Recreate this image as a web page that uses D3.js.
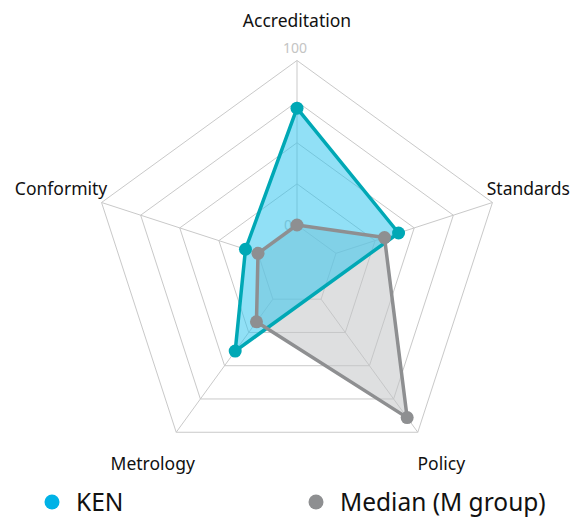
<!DOCTYPE html>
<html lang="en">
<head>
<meta charset="utf-8">
<script src="https://d3js.org/d3.v7.min.js"></script>
<style>
  body { margin: 0; background: #ffffff; }
  svg { display: block; font-family: "Noto Sans", sans-serif; }
</style>
</head>
<body>
<div id="chart"></div>
<script>

// data
var axes = ["Accreditation", "Standards", "Policy", "Metrology", "Conformity"];
var kenValues = [71, 40, null, 39, 8];
var medianValues = [0, 31, 89, 17, 0];
var ringTicks = [0, 25, 50, 75, 100];
var seriesNames = ["KEN", "Median (M group)"];

var w = 582, h = 517;
var cx = 297, cy = 266;

var svg = d3.select("#chart").append("svg")
  .attr("width", w)
  .attr("height", h);

var r = d3.scaleLinear().domain([0, 100]).range([41, 205.5]);

var angle = d3.scalePoint()
  .domain(axes)
  .range([0, 2 * Math.PI * (axes.length - 1) / axes.length]);

function pt(axis, v) {
  var a = angle(axis);
  return [cx + Math.sin(a) * r(v), cy - Math.cos(a) * r(v)];
}

// grid rings
var grid = svg.append("g");
ringTicks.forEach(function(t) {
  grid.append("polygon")
    .attr("points", axes.map(function(ax) { return pt(ax, t).join(","); }).join(" "))
    .attr("fill", "none")
    .attr("stroke", "#c9c9c9")
    .attr("stroke-width", 1);
});
// spokes
axes.forEach(function(ax) {
  var p0 = pt(ax, 0), p1 = pt(ax, 100);
  grid.append("line")
    .attr("x1", p0[0]).attr("y1", p0[1])
    .attr("x2", p1[0]).attr("y2", p1[1])
    .attr("stroke", "#c9c9c9")
    .attr("stroke-width", 1);
});

// value labels on top axis
grid.append("text")
  .attr("x", cx - 2)
  .attr("y", cy - r(100) - 8)
  .attr("text-anchor", "middle")
  .attr("font-size", 14)
  .attr("fill", "#c4c4c4")
  .text("100");
grid.append("text")
  .attr("x", cx - 9)
  .attr("y", cy - r(0) + 5)
  .attr("text-anchor", "middle")
  .attr("font-size", 14)
  .attr("fill", "#c4c4c4")
  .text("0");

// axis labels
axes.forEach(function(ax) {
  var a = angle(ax);
  var p = pt(ax, 100);
  var s = Math.sin(a), c = Math.cos(a);
  var x = p[0], y = p[1], anchor = "middle";
  if (c > 0.9) { y = p[1] - 34; }
  else if (c > 0) { anchor = s > 0 ? "start" : "end"; x = p[0] - s * 6; y = p[1] - 7; }
  else { x = p[0] + s * 40; y = p[1] + 38; }
  svg.append("text")
    .attr("x", x).attr("y", y)
    .attr("text-anchor", anchor)
    .attr("font-size", 17.5)
    .attr("fill", "#111")
    .text(ax);
});

function seriesPoints(values) {
  var out = [];
  values.forEach(function(v, i) {
    if (v !== null) out.push({ axis: axes[i], p: pt(axes[i], v) });
  });
  return out;
}

var kenPts = seriesPoints(kenValues);
var medPts = seriesPoints(medianValues);

var line = d3.line().curve(d3.curveLinearClosed);

// fills
svg.append("path")
  .attr("d", line(medPts.map(function(d) { return d.p; })))
  .attr("fill", "#c3c4c7")
  .attr("fill-opacity", 0.55);
svg.append("path")
  .attr("d", line(kenPts.map(function(d) { return d.p; })))
  .attr("fill", "#2cc4ee")
  .attr("fill-opacity", 0.52);

// KEN outline
svg.append("path")
  .attr("d", line(kenPts.map(function(d) { return d.p; })))
  .attr("fill", "none")
  .attr("stroke", "#00a8b5")
  .attr("stroke-width", 3.5)
  .attr("stroke-linejoin", "round");

// Median outline
svg.append("path")
  .attr("d", line(medPts.map(function(d) { return d.p; })))
  .attr("fill", "none")
  .attr("stroke", "#8e8f91")
  .attr("stroke-width", 3.5)
  .attr("stroke-linejoin", "round");

svg.selectAll("circle.ken")
  .data(kenPts).enter().append("circle")
  .attr("class", "ken")
  .attr("cx", function(d) { return d.p[0]; })
  .attr("cy", function(d) { return d.p[1]; })
  .attr("r", 6.5)
  .attr("fill", "#00a8b5");

svg.selectAll("circle.med")
  .data(medPts).enter().append("circle")
  .attr("class", "med")
  .attr("cx", function(d) { return d.p[0]; })
  .attr("cy", function(d) { return d.p[1]; })
  .attr("r", 6.5)
  .attr("fill", "#8e8f91");

// legend
var legendColors = ["#00b2e6", "#8e8f91"];
var legendX = [52, 316];
var legend = svg.selectAll("g.legend")
  .data(seriesNames).enter().append("g")
  .attr("class", "legend")
  .attr("transform", function(d, i) { return "translate(" + legendX[i] + ",502)"; });
legend.append("circle")
  .attr("r", 7.5)
  .attr("fill", function(d, i) { return legendColors[i]; });
legend.append("text")
  .attr("x", 24)
  .attr("y", 9)
  .attr("font-size", 24.5)
  .attr("fill", "#111")
  .text(function(d) { return d; });

</script>
</body>
</html>
